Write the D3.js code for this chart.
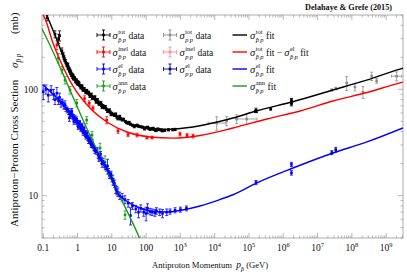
<!DOCTYPE html>
<html><head><meta charset="utf-8">
<script src="https://cdn.jsdelivr.net/npm/d3@7"></script>
<style>body{margin:0;background:#fff}svg{display:block}text{font-family:"Liberation Serif","Times New Roman",serif}</style>
</head><body><svg id="c" width="407" height="278"></svg>
<script>
// ---------- tick labels ----------
const xTickVals = [0.1, 1, 10, 100, 1e3, 1e4, 1e5, 1e6, 1e7, 1e8, 1e9];
const xTickBase = ["0.1", "1", "10", "100", "10", "10", "10", "10", "10", "10", "10"];
const xTickExp  = ["", "", "", "", "3", "4", "5", "6", "7", "8", "9"];
const yTickVals = [10, 100];
const yTickLabels = ["10", "100"];

// ---------- fits (momentum GeV, cross section mb) ----------
const totFitP = [0.126,0.22,0.35,0.48,0.69,0.97,1.65,2.8,5.5,10.8,21,41,104,250,700,3700,34000,1.7e5,1.9e6,2.8e7,2.7e8,2.5e9,3.1e9];
const totFitS = [499,324,219,169,136,117,98.5,84.7,69.7,58.6,51.4,46.2,43.8,41.9,42.4,45.5,53.7,62.9,76.4,98.5,122,155,158];
const inelFitP = [0.101,0.126,0.18,0.309,0.739,2.31,7.24,27.7,130,608,3720,34200,3.35e5,3.07e6,2.81e7,2.75e8,2.52e9,3.1e9];
const inelFitS = [499,420,290,188,107,66.7,49.3,39.7,35.6,34.8,36.8,43.3,52.6,62.5,77.6,93.3,115,117];
const elFitP = [0.0986,0.309,0.846,2.31,4.53,8.86,15.2,24.3,47.5,130,407,973,3720,11700,34200,1.71e5,1.92e6,2.81e7,2.75e8,3.09e9];
const elFitS = [110,77.6,53.7,33.4,23.1,15.7,10.4,9.11,8.0,7.18,7.03,7.26,8.0,9.0,10.2,13.2,18.2,25.2,32.0,43.3];
const annFitP = [0.09,0.113,2.59,17.3,64.2,93];
const annFitS = [375,324,34.1,9.8,4.0,3.0];

// ---------- data: pbar p total ----------
const pbarTotP = [0.13,0.22,0.28,0.3,0.35,0.38,0.4,0.42,0.45,0.48,0.5,0.53,0.55,0.58,0.6,0.63,0.65,0.68,0.7,0.72,0.75,0.78,0.8,0.85,0.9,0.95,1.0,1.05,1.1,1.15,1.2,1.3,1.4,1.5,1.6,1.7,1.8,1.9,2.0,2.2,2.4,2.6,2.8,3.0,3.3,3.6,4.0,4.5,5.0,5.5,6.0,7.0,8.0,9.0,10,11,12,14,16,18,20,25,30,35,40,50,60,70,80,100,120,150,170,200,240,280,350,450,600,700,1.6e5,1.6e5,1.6e5,4.3e5,1.73e6,1.73e6,1.73e6,
  0.52,0.57,0.62,0.67,0.73,0.77,0.82,0.88,0.93,0.98,1.08,1.25,1.35,1.45,1.55,1.75,1.85,2.1,2.3,2.5,2.7,3.2,3.5,3.8,4.2,4.8,5.2,6.5,7.5,8.5,9.5,13,15,17,22,27,32,45,55,90,110,130,160,190,220,300];
const pbarTotS = [470,330,300,320,230,212,200,190,182,172,168,160,158,150,150,143,141,138,136,130,132,128,127,124,121,117,118,112,113,109,108,106,101,100,98,97,95,94,92,90,88,86,84,83,80,78,76,73,71,70,67,65,63,61,59.5,58,57,55,54,53,51.5,50,48,47,46,45.5,45,44.5,44,43.5,43,42.5,42,41.5,41.8,41.5,41.3,41.6,41.7,42,61.9,62.2,63.5,65.3,72.8,80.0,75.5,
  172,155,146,136,135,126,128,118,122,113,116,103,108,98,102,93,98,94,86,90,82,85,76,80,73,75,68,69,62,64,58,58.5,53,55.5,52.5,48.5,49,44.5,46,42.5,44,42,43,41,42.3,40.8];
const pbarTotE = [30,25,30,35,15,10,8,8,8,6,6,6,5,5,5,5,4,4,4,4,4,4,3,3,3,3,3,3,3,3,2,2,2,2,2,2,2,2,2,2,2,2,2,2,2,2,2,2,2,2,1.5,1.5,1.5,1.5,1.5,1.5,1.5,1.5,1.5,1.5,1,1,1,1,1,1,1,1,1,1,1,1,1,1,1,1,1,1,1,1,1.5,1.5,3,1.5,3,2.2,2,
  5,5,5,4,4,4,3,3,3,3,3,2,2,2,2,2,2,2,2,2,2,2,2,2,2,2,2,1.5,1.5,1.5,1.5,1.5,1.5,1.5,1,1,1,1,1,1,1,1,1,1,1,1];

// ---------- data: pbar p inelastic ----------
const pbarInelP = [0.25,1.6,2.2,2.83,7.1,15.2,29.7,54.3,106,149,973,1560,2330];
const pbarInelS = [261,82,74,66.7,51.4,40.6,37.6,37.2,35.2,35.2,38.0,36.8,36.4];
const pbarInelE = [25,5,4,3,4,2,1.5,1.5,1,1,1.5,1.5,1.5];

// ---------- data: pbar p elastic ----------
const pbarElP = [0.1,0.12,0.14,0.17,0.2,0.22,0.25,0.28,0.3,0.33,0.36,0.4,0.43,0.46,0.5,0.55,0.6,0.65,0.7,0.75,0.8,0.85,0.9,1.0,1.1,1.2,1.3,1.4,1.5,1.6,1.7,1.8,2.0,2.2,2.4,2.6,2.8,3.0,3.5,4.0,4.5,5,5.5,6,7,7.5,8,9,10,12,13,15,17,20,24,30,35,40,50,60,70,85,100,110,130,150,180,200,250,300,400,500,700,1000,1500,1.6e5,1.73e6,1.73e6,
  0.58,0.68,0.78,0.95,1.05,1.15,1.25,1.35,1.45,1.55,1.75,1.9,2.1,2.3,2.5,2.7,3.2,3.7,4.2,4.7,5.2,6.5,8.5,9.5,11,14];
const pbarElS = [95,100,88,98,90,80,92,78,84,74,76,70,72,66,64,62,58,60,56,55,52,54,50,48,47,45,44,42,41,39,38,37,35,33,32,30,29.5,28,26,24,23,21.5,21,19.5,18,19,17,15.5,14.5,13,11.5,10.8,10,9.7,9.2,8.5,6.5,8.0,7.5,7.0,7.6,7.0,6.8,7.6,7.1,7.0,6.9,7.2,7.0,6.8,7.0,7.1,7.3,7.4,7.6,13.3,19.7,16.4,
  54,62,50,52,44,49,42,46,39,43,36,39,33,35,30,32,26.5,27,22.5,24.5,20,18.5,15.5,16,13.5,11.2];
const pbarElE = [15,10,12,10,10,8,12,6,8,6,5,5,6,4,4,4,4,4,3,3,3,3,3,3,2,2,2,2,2,2,2,2,2,2,1.5,1.5,1.5,1.5,1.5,1.5,1.5,1.5,1.5,1,1,3,1,1,1,1,1,1,0.8,0.8,0.8,0.7,1.2,0.6,0.6,0.8,0.6,0.6,1.0,0.8,0.5,0.5,0.5,0.5,0.5,0.6,0.5,0.4,0.4,0.4,0.4,0.6,0.9,0.8,
  4,4,3,3,2,2,2,2,2,2,2,2,2,2,1.5,1.5,1.5,1.5,1.5,1.5,1.5,1,1,1,1,1];

// ---------- data: pbar p annihilation ----------
const pbarAnnP = [0.275,0.353,0.432,0.604,0.948,1.85,2.65,4.53,6.34,10.8,24.3];
const pbarAnnS = [197,152,122,98.5,74.3,51.4,37.2,28.1,20.7,14.1,6.6];
const pbarAnnE = [20,12,10,8,6,4,3,3,3,1.5,0.6];

// ---------- data: p p total (grey), inelastic (pink), elastic (navy) ----------
const ppTotP = [1.14e4,2.24e4,4.38e4,8.57e4,2.6e7,3.4e7,7.05e7,1.23e8,2.11e8,3.78e8,5.28e8,2.02e9];
const ppTotS = [48.2,50.4,52.6,52.6,98.6,101.7,114.6,105,94.3,133,120,133];
const ppTotE = [7,5,5,6,2.2,2.9,17,8,12,12,6,13];
const ppTotPx = [0.25,0,0,0.3,0,0,0,0,0,0,0,0.15];
const ppInelP = [];
const ppInelS = [];
const ppInelE = [];
const ppElP = [2.6e7,3.4e7];
const ppElS = [25.4,27.1];
const ppElE = [1.1,1.4];

// ---------- drawing ----------
const L = 42, R = 403, T = 15, B = 238;
const svg = d3.select("#c");
const x = d3.scaleLog().domain([0.092, 3.1e9]).range([L, R]);
const y = d3.scaleLog().domain([4, 500]).range([B, T]);

const COL = {black:"#000", red:"#ff0000", blue:"#0000ff", green:"#1a9a1a", grey:"#8c8c8c", pink:"#ff8a8a", navy:"#000090"};

svg.append("defs").append("clipPath").attr("id","clip")
  .append("rect").attr("x",L).attr("y",T).attr("width",R-L).attr("height",B-T);

const frameCol = "#9a9a9a";
svg.append("rect").attr("x",L).attr("y",T).attr("width",R-L).attr("height",B-T)
  .attr("fill","none").attr("stroke",frameCol).attr("stroke-width",0.8);

const xMinor = [];
for (let e=-2; e<=9; e++) for (let m=2; m<=9; m++) { const v=m*Math.pow(10,e); if (v>=0.092 && v<=3.1e9) xMinor.push(v); }
const yMinor = [];
for (let e=0; e<=2; e++) for (let m=2; m<=9; m++) { const v=m*Math.pow(10,e); if (v>=4 && v<=500) yMinor.push(v); }
const tk = svg.append("g").attr("stroke",frameCol).attr("stroke-width",0.7);
xTickVals.forEach(v => {
  tk.append("line").attr("x1",x(v)).attr("x2",x(v)).attr("y1",B).attr("y2",B-5);
  tk.append("line").attr("x1",x(v)).attr("x2",x(v)).attr("y1",T).attr("y2",T+5);
});
xMinor.forEach(v => {
  tk.append("line").attr("x1",x(v)).attr("x2",x(v)).attr("y1",B).attr("y2",B-2.5);
  tk.append("line").attr("x1",x(v)).attr("x2",x(v)).attr("y1",T).attr("y2",T+2.5);
});
yTickVals.forEach(v => {
  tk.append("line").attr("y1",y(v)).attr("y2",y(v)).attr("x1",L).attr("x2",L+5);
  tk.append("line").attr("y1",y(v)).attr("y2",y(v)).attr("x1",R).attr("x2",R-5);
});
yMinor.forEach(v => {
  tk.append("line").attr("y1",y(v)).attr("y2",y(v)).attr("x1",L).attr("x2",L+2.5);
  tk.append("line").attr("y1",y(v)).attr("y2",y(v)).attr("x1",R).attr("x2",R-2.5);
});

xTickVals.forEach((v,i) => {
  const t = svg.append("text").attr("x",x(v)).attr("y",B+13).attr("text-anchor","middle")
    .attr("font-size",9.5).attr("fill","#111");
  t.append("tspan").text(xTickBase[i]);
  if (xTickExp[i]) t.append("tspan").attr("dy",-4).attr("font-size",6.5).text(xTickExp[i]);
});
yTickVals.forEach((v,i) => {
  svg.append("text").attr("x",L-4).attr("y",y(v)+3.3).attr("text-anchor","end")
    .attr("font-size",9.5).attr("fill","#111").text(yTickLabels[i]);
});

// x axis title
const xt = svg.append("text").attr("x",152).attr("y",268).attr("font-size",8.6).attr("fill","#111");
xt.append("tspan").text("Antiproton Momentum\u2002");
xt.append("tspan").attr("font-style","italic").attr("font-size",9.5).text("p");
xt.append("tspan").attr("dy",2.5).attr("font-size",6).attr("font-style","italic").text("p\u0304");
xt.append("tspan").attr("dy",-2.5).text(" (GeV)");

// y axis title (rotated, reads bottom to top)
const yg = svg.append("g").attr("transform","translate(18,0) rotate(-90)");
yg.append("text").attr("x",-227).attr("y",0).attr("font-size",11).attr("fill","#111")
  .text("Antiproton\u2212Proton Cross Section");
const ys = yg.append("text").attr("x",-68).attr("y",0).attr("font-size",11).attr("fill","#111");
ys.append("tspan").attr("font-style","italic").text("\u03c3");
ys.append("tspan").attr("dy",3).attr("font-size",7.5).attr("font-style","italic").text("p\u0304\u2009p");
yg.append("text").attr("x",-34).attr("y",0).attr("font-size",11).attr("fill","#111").text("(mb)");

svg.append("text").attr("x",392).attr("y",10).attr("text-anchor","end").attr("font-size",8.2)
  .attr("font-weight","bold").attr("fill","#111").text("Delahaye & Grefe (2015)");

const g = svg.append("g").attr("clip-path","url(#clip)");

function drawData(P, S, E, color, Px) {
  const gg = g.append("g").attr("stroke",color).attr("stroke-width",0.8).attr("fill",color);
  P.forEach((p,i) => {
    const cx = x(p), cy = y(S[i]);
    const y1 = y(Math.max(S[i]-E[i], 0.5)), y2 = y(S[i]+E[i]);
    gg.append("line").attr("x1",cx).attr("x2",cx).attr("y1",y1).attr("y2",y2);
    gg.append("line").attr("x1",cx-1.5).attr("x2",cx+1.5).attr("y1",y1).attr("y2",y1);
    gg.append("line").attr("x1",cx-1.5).attr("x2",cx+1.5).attr("y1",y2).attr("y2",y2);
    if (Px && Px[i]) {
      const f = Math.pow(10, Px[i]);
      gg.append("line").attr("x1",x(p/f)).attr("x2",x(p*f)).attr("y1",cy).attr("y2",cy);
      gg.append("line").attr("x1",x(p/f)).attr("x2",x(p/f)).attr("y1",cy-1.5).attr("y2",cy+1.5);
      gg.append("line").attr("x1",x(p*f)).attr("x2",x(p*f)).attr("y1",cy-1.5).attr("y2",cy+1.5);
    }
    gg.append("rect").attr("x",cx-1.3).attr("y",cy-1.3).attr("width",2.6).attr("height",2.6).attr("stroke","none");
  });
}
drawData(ppTotP, ppTotS, ppTotE, COL.grey, ppTotPx);
drawData(ppInelP, ppInelS, ppInelE, COL.pink);
drawData(pbarTotP, pbarTotS, pbarTotE, COL.black);
drawData(pbarInelP, pbarInelS, pbarInelE, COL.red);
drawData(pbarAnnP, pbarAnnS, pbarAnnE, COL.green);
drawData(pbarElP, pbarElS, pbarElE, COL.blue);
drawData(ppElP, ppElS, ppElE, COL.navy);

const line = d3.line().x(d=>x(d[0])).y(d=>y(d[1])).curve(d3.curveMonotoneX);
function drawFit(P, S, color) {
  g.append("path").attr("d", line(P.map((p,i)=>[p,S[i]]))).attr("fill","none")
    .attr("stroke",color).attr("stroke-width",1.4);
}
drawFit(annFitP, annFitS, COL.green);
drawFit(elFitP, elFitS, COL.blue);
drawFit(inelFitP, inelFitS, COL.red);
drawFit(totFitP, totFitS, COL.black);

// legend
const legRows = [35, 52, 69, 86];
function sigmaLabel(x0, yc, sup, sub, rest) {
  const lg = svg.append("g");
  const s = lg.append("text").attr("x",x0).attr("y",yc+3.5).attr("font-size",10.5).attr("font-style","italic").attr("fill","#111").text("\u03c3");
  const sx = x0 + s.node().getComputedTextLength() + 0.5;
  const a = lg.append("text").attr("x",sx).attr("y",yc-1.5).attr("font-size",6.5).attr("fill","#111").text(sup);
  const b = lg.append("text").attr("x",sx).attr("y",yc+6.5).attr("font-size",6.5).attr("font-style","italic").attr("fill","#111").text(sub);
  let ex = sx + Math.max(a.node().getComputedTextLength(), b.node().getComputedTextLength()) + 2.5;
  rest.forEach(r => {
    if (r.type === "text") {
      const t = lg.append("text").attr("x",ex).attr("y",yc+3.5).attr("font-size",9.5).attr("fill","#111").text(r.v);
      ex += t.node().getComputedTextLength() + 2;
    } else {
      const t = lg.append("text").attr("x",ex).attr("y",yc+3.5).attr("font-size",10.5).attr("font-style","italic").attr("fill","#111").text("\u03c3");
      const sx2 = ex + t.node().getComputedTextLength() + 0.5;
      const a2 = lg.append("text").attr("x",sx2).attr("y",yc-1.5).attr("font-size",6.5).attr("fill","#111").text(r.sup);
      const b2 = lg.append("text").attr("x",sx2).attr("y",yc+6.5).attr("font-size",6.5).attr("font-style","italic").attr("fill","#111").text(r.sub);
      ex = sx2 + Math.max(a2.node().getComputedTextLength(), b2.node().getComputedTextLength()) + 2.5;
    }
  });
}
function legSymbol(cx, cy, color) {
  const gg = svg.append("g").attr("stroke",color).attr("stroke-width",0.9).attr("fill",color);
  gg.append("line").attr("x1",cx-6.5).attr("x2",cx+6.5).attr("y1",cy).attr("y2",cy);
  gg.append("line").attr("x1",cx-6.5).attr("x2",cx-6.5).attr("y1",cy-2).attr("y2",cy+2);
  gg.append("line").attr("x1",cx+6.5).attr("x2",cx+6.5).attr("y1",cy-2).attr("y2",cy+2);
  gg.append("line").attr("x1",cx).attr("x2",cx).attr("y1",cy-5).attr("y2",cy+5);
  gg.append("line").attr("x1",cx-1.5).attr("x2",cx+1.5).attr("y1",cy-5).attr("y2",cy-5);
  gg.append("line").attr("x1",cx-1.5).attr("x2",cx+1.5).attr("y1",cy+5).attr("y2",cy+5);
  gg.append("rect").attr("x",cx-1.3).attr("y",cy-1.3).attr("width",2.6).attr("height",2.6).attr("stroke","none");
}
const PB = "p\u0304\u2009p", PP = "p\u2009p";
const col1 = [["tot",COL.black],["inel",COL.red],["el",COL.blue],["ann",COL.green]];
col1.forEach((c,i) => { legSymbol(103.5, legRows[i], c[1]); sigmaLabel(112.5, legRows[i], c[0], PB, [{type:"text",v:"data"}]); });
const col2 = [["tot",COL.grey],["inel",COL.pink],["el",COL.navy]];
col2.forEach((c,i) => { legSymbol(170, legRows[i], c[1]); sigmaLabel(179.5, legRows[i], c[0], PP, [{type:"text",v:"data"}]); });
const col3 = [
  [COL.black, "tot", [{type:"text",v:"fit"}]],
  [COL.red, "tot", [{type:"text",v:"fit \u2212"},{type:"sig",sup:"el",sub:PB},{type:"text",v:"fit"}]],
  [COL.blue, "el", [{type:"text",v:"fit"}]],
  [COL.green, "ann", [{type:"text",v:"fit"}]]
];
col3.forEach((c,i) => {
  svg.append("line").attr("x1",232.5).attr("x2",247).attr("y1",legRows[i]).attr("y2",legRows[i])
    .attr("stroke",c[0]).attr("stroke-width",1.4);
  sigmaLabel(250, legRows[i], c[1], PB, c[2]);
});
</script></body></html>
